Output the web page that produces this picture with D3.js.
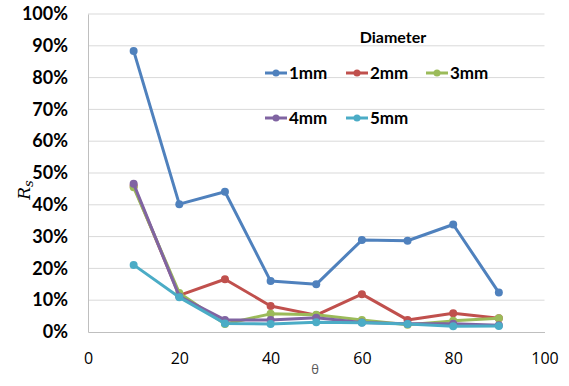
<!DOCTYPE html>
<html><head><meta charset="utf-8">
<script src="https://cdn.jsdelivr.net/npm/d3@7"></script>
<style>body{margin:0;background:#fff}svg{display:block}</style>
</head><body>
<svg id="c" width="569" height="386"></svg>
<script>
const thetas = [10,20,30,40,50,60,70,80,90];
const seriesNames = ["1mm","2mm","3mm","4mm","5mm"];
const s1mm = [88.4,40.2,44.1,16.0,15.0,28.9,28.7,33.8,12.4];
const s2mm = [46.0,11.5,16.6,8.2,5.3,11.9,3.8,5.9,4.3];
const s3mm = [45.5,12.3,2.5,5.7,5.4,3.8,2.3,3.5,4.3];
const s4mm = [46.6,11.2,3.8,3.8,4.5,3.0,2.6,2.6,2.1];
const s5mm = [21.1,10.9,2.7,2.5,3.1,2.9,2.5,1.8,1.9];
const seriesValues = [s1mm,s2mm,s3mm,s4mm,s5mm];
const xTicks = [0,20,40,60,80,100];
const yTicks = [0,10,20,30,40,50,60,70,80,90,100];
const colors = ["#4F81BD","#C0504D","#9BBB59","#8064A2","#4BACC6"];

const svg = d3.select("#c");
const x = d3.scaleLinear().domain([0,100]).range([88,544.5]);
const y = d3.scaleLinear().domain([0,100]).range([332,14]);

// gridlines
svg.append("g").selectAll("line").data(yTicks.filter(d=>d>0)).join("line")
  .attr("x1",x(0)).attr("x2",x(100)).attr("y1",d=>y(d)).attr("y2",d=>y(d))
  .attr("stroke","#D9D9D9").attr("stroke-width",1);

// axes
const yAxis = svg.append("g").attr("transform",`translate(${x(0)},0)`)
  .call(d3.axisLeft(y).tickValues(yTicks).tickFormat(d=>d+"%").tickSize(0).tickPadding(20));
yAxis.select(".domain").attr("stroke","#BFBFBF");
yAxis.selectAll("text").attr("font-family","Lato, 'Open Sans', sans-serif").attr("font-weight","bold")
  .attr("font-size","18px").attr("fill","#000");

const xAxis = svg.append("g").attr("transform",`translate(0,${y(0)})`)
  .call(d3.axisBottom(x).tickValues(xTicks).tickSize(0).tickPadding(21));
xAxis.select(".domain").attr("stroke","#BFBFBF");
xAxis.selectAll("text").attr("font-family","'Open Sans', Lato, sans-serif")
  .attr("font-size","16px").attr("fill","#000");

// axis titles
svg.append("text").attr("x",315).attr("y",374).attr("text-anchor","middle")
  .attr("font-family","'Open Sans', sans-serif").attr("font-size","13px").attr("fill","#595959").text("θ");
svg.append("text").attr("transform","translate(30,190) rotate(-90)").attr("text-anchor","middle")
  .attr("font-family","'DejaVu Serif', 'Liberation Serif', serif").attr("font-style","italic")
  .attr("font-size","17px").attr("fill","#000")
  .html('R<tspan font-size="13px" dy="3">s</tspan>');

// series
const line = d3.line().x((d,i)=>x(thetas[i])).y(d=>y(d));
seriesValues.forEach((vals,k)=>{
  const g = svg.append("g");
  g.append("path").attr("d",line(vals)).attr("fill","none").attr("stroke",colors[k])
    .attr("stroke-width",3).attr("stroke-linejoin","round");
  g.selectAll("circle").data(vals).join("circle")
    .attr("cx",(d,i)=>x(thetas[i])).attr("cy",d=>y(d)).attr("r",4).attr("fill",colors[k]);
});

// legend
svg.append("text").attr("x",393).attr("y",43).attr("text-anchor","middle")
  .attr("font-family","Lato, sans-serif").attr("font-weight","bold").attr("font-size","16px")
  .attr("fill","#000").text("Diameter");
const legPos = [[265,73],[346,73],[426,73],[265,118],[346,118]];
seriesNames.forEach((n,k)=>{
  const [lx,ly] = legPos[k];
  const g = svg.append("g");
  g.append("line").attr("x1",lx).attr("x2",lx+22).attr("y1",ly).attr("y2",ly)
    .attr("stroke",colors[k]).attr("stroke-width",3);
  g.append("circle").attr("cx",lx+11).attr("cy",ly).attr("r",3.5).attr("fill",colors[k]);
  g.append("text").attr("x",lx+24).attr("y",ly+6).attr("font-family","Lato, sans-serif")
    .attr("font-weight","bold").attr("font-size","17px").attr("fill","#000").text(n);
});
</script>
</body></html>
